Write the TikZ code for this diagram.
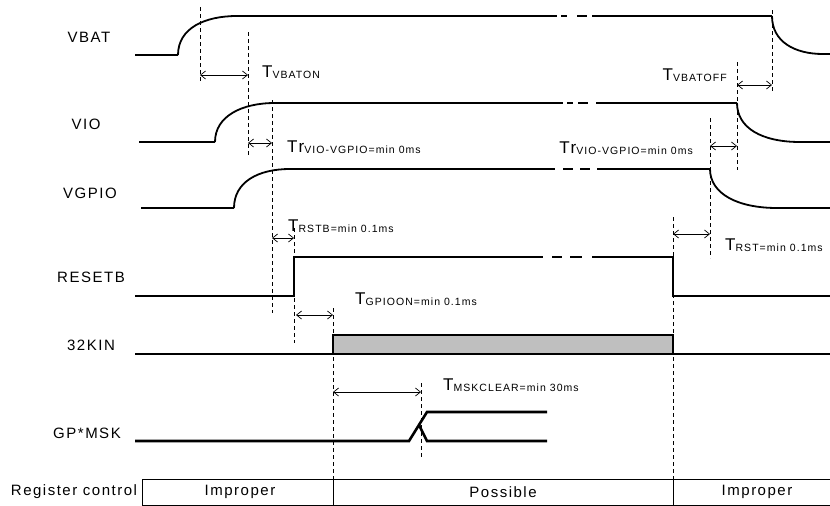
\documentclass[tikz,border=0pt]{standalone}
\usepackage{fontspec}
\setmainfont{Liberation Sans}[LetterSpace=10]
\usepackage{tikz}
\usetikzlibrary{arrows.meta}
\tikzset{
  sig/.style={line width=2.6pt},
  rise/.style={line width=1.8pt},
  guide/.style={line width=0.8pt, dash pattern=on 4pt off 3pt},
  span/.style={line width=0.7pt, {Straight Barb[length=5pt,width=8pt]}-{Straight Barb[length=5pt,width=8pt]}},
  lbl/.style={font=\fontsize{15}{15}\selectfont, inner sep=0},
  tlbl/.style={anchor=base west, inner sep=0},
}
\newcommand{\tsub}[2]{{\fontsize{17}{17}\selectfont #1}\raisebox{-1.5pt}{\fontsize{10.5}{10.5}\selectfont #2}}

\begin{document}
\begin{tikzpicture}[x=1pt, y=-1pt]
	\useasboundingbox (0,0) rectangle (830,506);
	% signal names
	\node[lbl] (vbat) at (89,37) {VBAT};
	\node[lbl] (vio) at (86,124) {VIO};
	\node[lbl] (vgpio) at (90,193) {VGPIO};
	\node[lbl] (resetb) at (91,277) {RESETB};
	\node[lbl] (kin) at (91,345) {32KIN};
	\node[lbl] (gpmsk) at (87,433) {GP*MSK};
	\node[lbl] (regctl) at (74,492) {Register control};
	% VBAT
	\draw[sig] (135,55) -- (178,55);
	\draw[rise] (178,55) .. controls (178,28) and (205,16) .. (237,16);
	\draw[sig] (237,16) -- (557,16) (561,16) -- (567,16) (577,16) -- (587,16) (592,16) -- (772,16);
	\draw[rise] (772,16) .. controls (772,42) and (795,54) .. (823,54);
	\draw[sig] (823,54) -- (830,54);
	% VIO
	\draw[sig] (139,142) -- (215,142);
	\draw[rise] (215,142) .. controls (215,116) and (242,103) .. (275,103);
	\draw[sig] (275,103) -- (563,103) (567,103) -- (573,103) (578,103) -- (588,103) (596,103) -- (737,103);
	\draw[rise] (737,103) .. controls (737,128) and (762,142) .. (800,142);
	\draw[sig] (800,142) -- (830,142);
	% VGPIO
	\draw[sig] (141,208) -- (234,208);
	\draw[rise] (234,208) .. controls (234,182) and (258,169) .. (290,169);
	\draw[sig] (290,169) -- (555,169) (563,169) -- (573,169) (580,169) -- (590,169) (597,169) -- (710,169);
	\draw[rise] (710,169) .. controls (710,194) and (738,208) .. (777,208);
	\draw[sig] (777,208) -- (830,208);
	% RESETB
	\draw[sig] (135,296) -- (294,296) -- (294,257) -- (543,257) (552,257) -- (562,257) (570,257) -- (582,257) (592,257) -- (673,257) -- (673,296) -- (830,296);
	% 32KIN
	\draw[sig] (135,354) -- (336,354);
	\filldraw[line width=1.2pt, fill=black!25] (333,335) rectangle (673,354);
	\draw[sig] (673,354) -- (830,354);
	% GP*MSK
	\draw[sig] (135,441) -- (409,441) -- (427,412) -- (547,412);
	\draw[sig] (419,425) -- (427,441) -- (547,441);
	% register control
	\draw[line width=1pt] (830,479) -- (142,479) -- (142,505) -- (830,505);
	\draw[line width=1pt] (333,479) -- (333,505) (673,479) -- (673,505);
	\node[lbl] (imp1) at (240,492) {Improper};
	\node[lbl] (poss) at (503,492) {Possible};
	\node[lbl] (imp2) at (757,492) {Improper};
	% guide lines
	\draw[guide] (200,7) -- (200,83);
	\draw[guide] (248,32) -- (248,157);
	\draw[guide] (272,100) -- (272,313);
	\draw[guide] (294,228) -- (294,343);
	\draw[guide] (333,308) -- (333,479);
	\draw[guide] (421,383) -- (421,457);
	\draw[guide] (673,217) -- (673,479);
	\draw[guide] (710,118) -- (710,258);
	\draw[guide] (737,62) -- (737,170);
	\draw[guide] (772,10) -- (772,93);
	% timings
	\draw[span] (200,75) -- (248,75);
	\node[tlbl] (tvbaton) at (262,77) {\tsub{T}{VBATON}};
	\draw[span] (248,143) -- (272,143);
	\node[tlbl] (trvio1) at (287,152) {\tsub{Tr}{VIO-VGPIO=min 0ms}};
	\draw[span] (272,238) -- (294,238);
	\node[tlbl] (trstb) at (288,231) {\tsub{T}{RSTB=min 0.1ms}};
	\draw[span] (296,315) -- (333,315);
	\node[tlbl] (tgpioon) at (355,304) {\tsub{T}{GPIOON=min 0.1ms}};
	\draw[span] (333,392) -- (421,392);
	\node[tlbl] (tmsk) at (443,390) {\tsub{T}{MSKCLEAR=min 30ms}};
	\draw[span] (673,234) -- (710,234);
	\node[tlbl] (trst) at (725,250) {\tsub{T}{RST=min 0.1ms}};
	\draw[span] (710,146) -- (737,146);
	\node[tlbl, anchor=base east] (trvio2) at (693,153) {\tsub{Tr}{VIO-VGPIO=min 0ms}};
	\draw[span] (737,85) -- (772,85);
	\node[tlbl, anchor=base east] (tvbatoff) at (727,80) {\tsub{T}{VBATOFF}};
\end{tikzpicture}
\end{document}
